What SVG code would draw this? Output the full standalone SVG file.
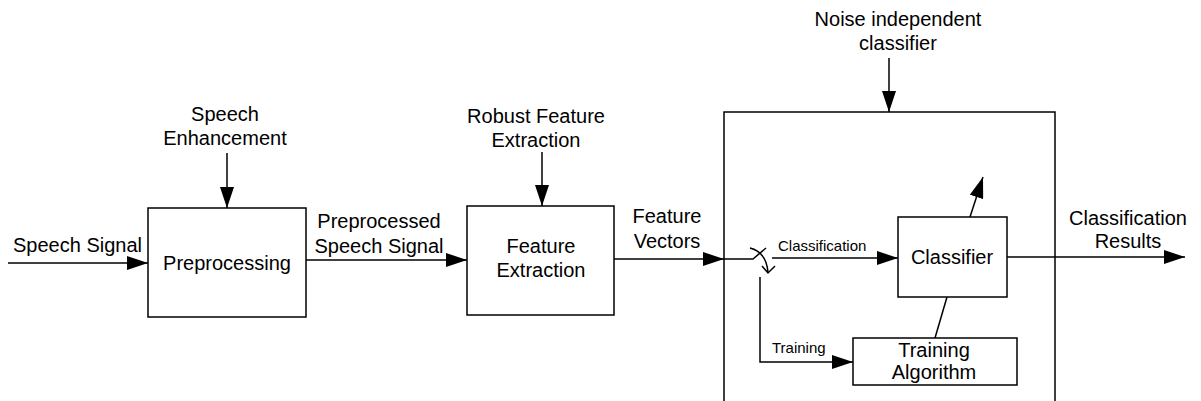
<svg xmlns="http://www.w3.org/2000/svg" width="1201" height="401" viewBox="0 0 1201 401">
<defs>
<marker id="ah" markerUnits="userSpaceOnUse" markerWidth="22" markerHeight="14" refX="21" refY="7" orient="auto"><path d="M0,0 L21,7 L0,14 z" fill="#000"/></marker>
<style>
.box{fill:#fff;stroke:#000;stroke-width:1.5}
.ln{fill:none;stroke:#000;stroke-width:1.5}
.ar{fill:none;stroke:#000;stroke-width:1.5;marker-end:url(#ah)}
text{font-family:"Liberation Sans",Arial,sans-serif;font-size:20px;fill:#000}
.c{text-anchor:middle}
.s{font-size:15px}
</style>
</defs>
<rect width="1201" height="401" fill="#fff"/>
<g id="connectors">
<line class="ar" x1="8" y1="263" x2="148" y2="263"/>
<line class="ar" x1="227" y1="153" x2="227" y2="208"/>
<line class="ar" x1="306" y1="260" x2="467" y2="260"/>
<line class="ar" x1="542" y1="152" x2="542" y2="206"/>
<line class="ar" x1="614" y1="259" x2="724" y2="259"/>
<line class="ar" x1="889" y1="58" x2="889" y2="112"/>
<polyline class="ln" points="724,259 753,259 766,248"/>
<path class="ln" d="M750,248 Q766,252 768,272"/>
<polyline class="ln" points="762,266 768,273 775,266"/>
<line class="ar" x1="772" y1="258" x2="898" y2="258"/>
<polyline class="ar" points="760,277 760,362 853,362"/>
<line class="ar" x1="970" y1="217" x2="983" y2="177"/>
<line class="ln" x1="947" y1="297" x2="935" y2="338"/>
<line class="ar" x1="1007" y1="257" x2="1185" y2="257"/>
</g>
<g id="noise-independent-classifier">
<polyline class="ln" points="724,401 724,112 1055,112 1055,401"/>
<text class="c" x="898" y="26">Noise independent</text>
<text class="c" x="898" y="50">classifier</text>
</g>
<g id="speech-signal"><text x="13" y="252">Speech Signal</text></g>
<g id="speech-enhancement">
<text class="c" x="225" y="121">Speech</text>
<text class="c" x="225" y="145">Enhancement</text>
</g>
<g id="preprocessing">
<rect class="box" x="148" y="208" width="158" height="109"/>
<text class="c" x="227" y="270">Preprocessing</text>
</g>
<g id="preprocessed-speech-signal">
<text class="c" x="379" y="228">Preprocessed</text>
<text class="c" x="379" y="253">Speech Signal</text>
</g>
<g id="robust-feature-extraction">
<text class="c" x="536" y="123">Robust Feature</text>
<text class="c" x="536" y="147">Extraction</text>
</g>
<g id="feature-extraction">
<rect class="box" x="467" y="206" width="147" height="109"/>
<text class="c" x="541" y="253">Feature</text>
<text class="c" x="541" y="277">Extraction</text>
</g>
<g id="feature-vectors">
<text class="c" x="667" y="223">Feature</text>
<text class="c" x="667" y="248">Vectors</text>
</g>
<g id="classification-label"><text class="s" x="778" y="251">Classification</text></g>
<g id="training-label"><text class="s" x="772" y="353">Training</text></g>
<g id="classifier">
<rect class="box" x="898" y="217" width="109" height="80"/>
<text class="c" x="952" y="264">Classifier</text>
</g>
<g id="training-algorithm">
<rect class="box" x="853" y="338" width="164" height="47"/>
<text class="c" x="934" y="357">Training</text>
<text class="c" x="934" y="379">Algorithm</text>
</g>
<g id="classification-results">
<text class="c" x="1128" y="225">Classification</text>
<text class="c" x="1128" y="248">Results</text>
</g>
</svg>
